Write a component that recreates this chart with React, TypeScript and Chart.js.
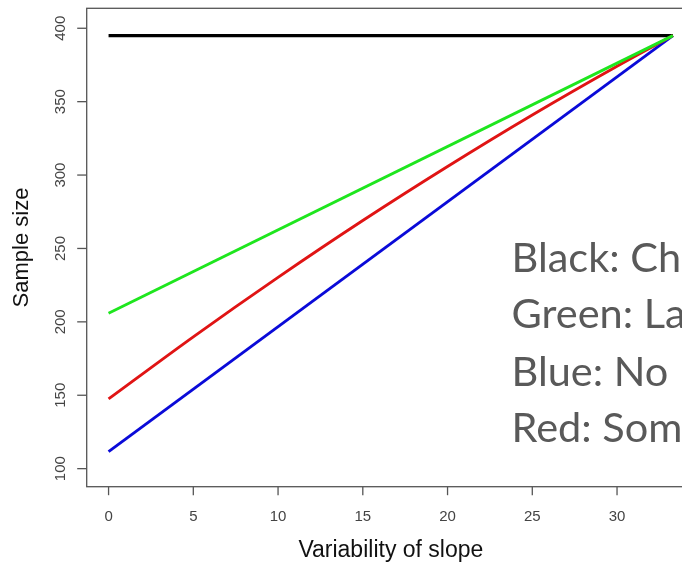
import React, { useEffect, useRef } from "react";
import { Chart, registerables } from "chart.js";

Chart.register(...registerables);

// ---- data ----
const xTicks = [0, 5, 10, 15, 20, 25, 30];
const yTicks = [100, 150, 200, 250, 300, 350, 400];

const blackX = [0, 33.3];
const blackY = [395, 395];
const greenX = [0, 33.3];
const greenY = [205.9, 395];
const blueX = [0, 33.3];
const blueY = [111.6, 395];
const redX = [0, 5, 10, 15, 20, 25, 30, 33.3];
const redY = [147.5, 189.8, 230.3, 269, 305.8, 340.9, 374.1, 395];

const xTitle = "Variability of slope";
const yTitle = "Sample size";
const noteLines = ["Black: Ch", "Green: La", "Blue: No", "Red: Som"];

const W = 700;
const H = 562;

const pts = (xs: number[], ys: number[]) => xs.map((x, i) => ({ x, y: ys[i] }));

const rAxes = {
  id: "rAxes",
  afterDraw(chart: any) {
    const { ctx, chartArea: a, scales } = chart;
    const x = scales.x;
    const y = scales.y;
    ctx.save();
    // box
    ctx.strokeStyle = "#555555";
    ctx.lineWidth = 1.3;
    ctx.strokeRect(a.left, a.top, a.right - a.left, a.bottom - a.top);

    ctx.fillStyle = "#444444";
    ctx.font = '15px "Liberation Sans", Arial, sans-serif';
    ctx.textAlign = "center";
    ctx.textBaseline = "alphabetic";
    // x ticks
    xTicks.forEach((v) => {
      const px = x.getPixelForValue(v);
      ctx.beginPath();
      ctx.moveTo(px, a.bottom);
      ctx.lineTo(px, a.bottom + 8.5);
      ctx.stroke();
      ctx.fillText(String(v), px, 520.5);
    });
    // y ticks
    yTicks.forEach((v) => {
      const py = y.getPixelForValue(v);
      ctx.beginPath();
      ctx.moveTo(a.left, py);
      ctx.lineTo(a.left - 9.5, py);
      ctx.stroke();
      ctx.save();
      ctx.translate(65, py);
      ctx.rotate(-Math.PI / 2);
      ctx.fillText(String(v), 0, 0);
      ctx.restore();
    });

    // axis titles
    ctx.fillStyle = "#111111";
    ctx.font = '23px "Liberation Sans", Arial, sans-serif';
    ctx.fillText(xTitle, (a.left + a.right) / 2, 557);
    ctx.font = '22px "Liberation Sans", Arial, sans-serif';
    ctx.save();
    ctx.translate(28, (a.top + a.bottom) / 2);
    ctx.rotate(-Math.PI / 2);
    ctx.fillText(yTitle, 0, 0);
    ctx.restore();

    // notes
    ctx.fillStyle = "#595959";
    ctx.font = '41.5px Lato, "Open Sans", sans-serif';
    ctx.textAlign = "left";
    const baselines = [271.7, 328.3, 385.7, 441.7];
    noteLines.forEach((t, i) => ctx.fillText(t, 511.5, baselines[i]));
    ctx.restore();
  },
};

export default function App() {
  const ref = useRef<HTMLCanvasElement | null>(null);
  useEffect(() => {
    if (!ref.current) return;
    const chart = new Chart(ref.current, {
      type: "scatter",
      data: {
        datasets: [
          { label: "Green", data: pts(greenX, greenY), borderColor: "#1ee61e", order: 0 },
          { label: "Red", data: pts(redX, redY), borderColor: "#e01414", order: 1, cubicInterpolationMode: "monotone" },
          { label: "Blue", data: pts(blueX, blueY), borderColor: "#0a0ad8", order: 2 },
          { label: "Black", data: pts(blackX, blackY), borderColor: "#000000", order: 3, borderWidth: 3.4 },
        ].map((d: any) => ({
          showLine: true,
          pointRadius: 0,
          pointHoverRadius: 0,
          borderWidth: 2.9,
          fill: false,
          ...d,
        })),
      },
      options: {
        animation: false,
        responsive: false,
        events: [],
        layout: { padding: { left: 86.7, top: 8.3, right: 5, bottom: 75.3 } },
        plugins: { legend: { display: false }, tooltip: { enabled: false } },
        scales: {
          x: { type: "linear", min: -1.29, max: 34.6, display: false },
          y: { type: "linear", min: 87.7, max: 413.6, display: false },
        },
      },
      plugins: [rAxes],
    } as any);
    return () => chart.destroy();
  }, []);

  return (
    <div
      style={{
        position: "fixed",
        left: 0,
        top: 0,
        width: 682,
        height: 562,
        overflow: "hidden",
        background: "#ffffff",
      }}
    >
      <canvas ref={ref} width={W} height={H} style={{ display: "block", width: W, height: H }} />
    </div>
  );
}
